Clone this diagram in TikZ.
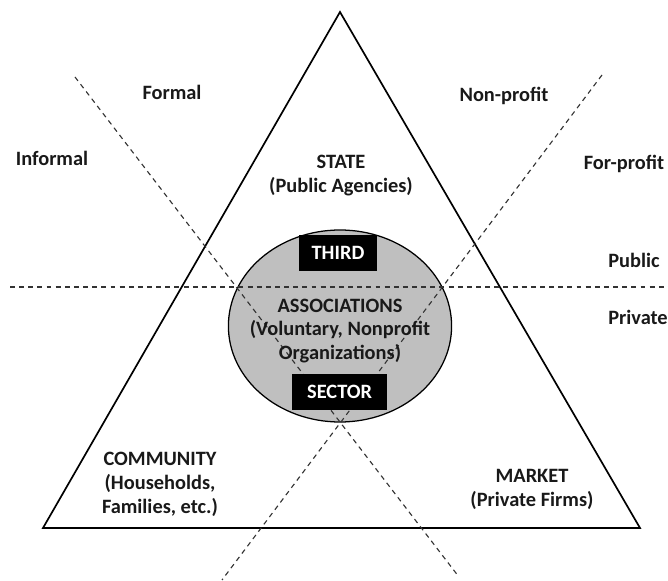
\documentclass[tikz,border=0pt]{standalone}
\usepackage{fontspec}
\setmainfont{Carlito}
\usepackage{tikz}
\usetikzlibrary{arrows, positioning, shapes.geometric}

\begin{document}
\begin{tikzpicture}[
  label/.style={
    font=\bfseries\fontsize{14.5}{17}\selectfont,
    align=center,
    text=black!90
  },
  sector/.style={
    rectangle,
    fill=black,
    text=white,
    minimum width=#1,
    minimum height=0.9cm,
    font=\bfseries\fontsize{14.5}{17}\selectfont
  },
  divide/.style={
    line width=0.8pt,
    draw=black!80,
    dash pattern=on 3.5pt off 3pt
  },
  edge/.style={
    line width=1.2pt,
    draw=black
  }
]
\useasboundingbox (0,0) rectangle (16.7,-14.525);

% Triangle corners
\coordinate (top) at (8.5,-0.3);
\coordinate (left) at (1.075,-13.2);
\coordinate (right) at (16.0,-13.2);
\draw[edge] (top) -- (left) -- (right) -- cycle;

% Third sector
\node[ellipse, draw=black, line width=0.9pt, fill=black!25,
  minimum width=5.58cm, minimum height=4.8cm] (third) at (8.5,-8.15) {};

% Dividing lines
\coordinate (pubW) at (0.25,-7.175);
\coordinate (pubE) at (16.7,-7.175);
\coordinate (formN) at (1.875,-1.925);
\coordinate (formS) at (11.475,-14.425);
\coordinate (profN) at (15.05,-1.875);
\coordinate (profS) at (5.55,-14.5);
\draw[divide] (pubW) -- (pubE);
\draw[divide] (formN) -- (formS);
\draw[divide] (profN) -- (profS);

% Sector tags
\node[sector=1.95cm] (tagT) at (8.45,-6.325) {THIRD};
\node[sector=2.375cm] (tagS) at (8.49,-9.79) {SECTOR};

% Corners of the triangle
\node[label] (state) at (8.525,-4.39) {STATE\\(Public Agencies)};
\node[label] (assoc) at (8.5,-8.275) {ASSOCIATIONS\\(Voluntary, Nonprofit\\Organizations)};
\node[label] (comm) at (4.0,-12.1) {COMMUNITY\\(Households,\\Families, etc.)};
\node[label] (market) at (13.3,-12.24) {MARKET\\(Private Firms)};

% Sides of the dividing lines
\node[label] (formal) at (4.3,-2.3) {Formal};
\node[label] (informal) at (1.3,-3.95) {Informal};
\node[label] (nonprofit) at (12.6,-2.4) {Non-profit};
\node[label] (forprofit) at (15.6,-4.1) {For-profit};
\node[label] (public) at (15.85,-6.5) {Public};
\node[label] (private) at (15.95,-7.925) {Private};
\end{tikzpicture}
\end{document}
